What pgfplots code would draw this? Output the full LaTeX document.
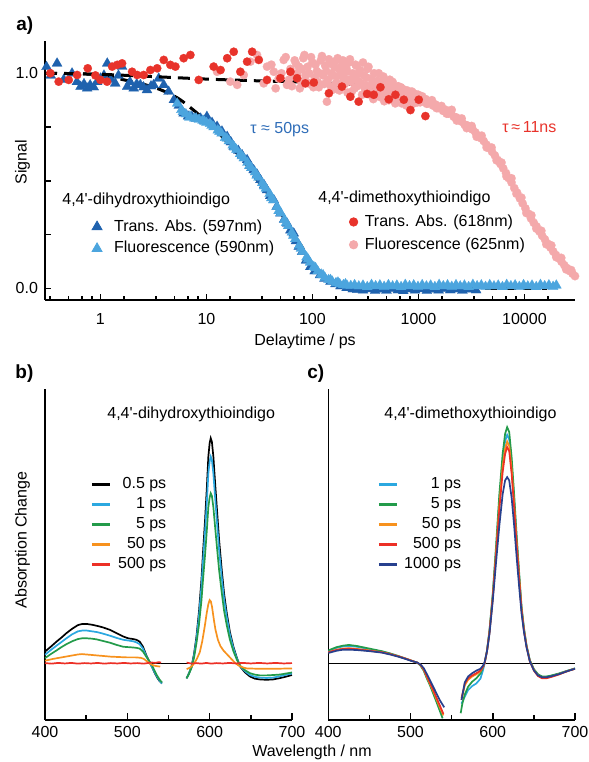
\documentclass[border=0pt]{standalone}
\usepackage{fontspec}
\setmainfont{Liberation Sans}
\usepackage{pgfplots}
\pgfplotsset{compat=1.18}
\definecolor{tadark}{HTML}{1F62AE}
\definecolor{flblue}{HTML}{4CA5DE}
\definecolor{tared}{HTML}{E8332B}
\definecolor{flpink}{HTML}{F4A9AB}
\definecolor{ccyan}{HTML}{2BA8E0}
\definecolor{cgreen}{HTML}{239B4A}
\definecolor{corange}{HTML}{F7921E}
\definecolor{cred}{HTML}{EC3026}
\definecolor{cnavy}{HTML}{27408E}
\definecolor{taublue}{HTML}{2F6DB8}
\newcommand\f{\fontsize{8}{9.6}\selectfont}
\pgfplotsset{
  base/.style={scale only axis, axis lines=left, axis line style={-, line width=0.8pt},
    tick style={line width=0.75pt, black}, tick align=inside,
    major tick length=3pt, minor tick length=2pt, tick label style={font=\f}, clip=true},
  mkleg/.style={legend image code/.code={\draw[##1] plot coordinates {(0pt,0pt)};}},
  lnleg/.style={legend image code/.code={\draw[##1, line width=1.4pt] (0pt,0pt) -- (9pt,0pt);}},
  fitline/.style={black, line width=1.5pt, dash pattern=on 6pt off 3.5pt, smooth, forget plot},
  tri/.style={only marks, mark=triangle*, mark size=2.9pt, mark options={line width=0.1pt}, forget plot},
  dot/.style={only marks, mark=*, mark size=2.1pt, mark options={line width=0.1pt}, forget plot},
  spec/.style={line width=0.85pt, forget plot},
}
\tikzset{txt/.style={inner sep=0pt, font=\f}}
\begin{document}
\begin{tikzpicture}
\useasboundingbox (0,0) rectangle (294.5pt,381pt);
% ---------------- panel a, axis 1 ----------------
\begin{axis}[base, at={(22.5pt,231pt)}, anchor=south west, width=265pt, height=129.5pt,
  xmode=log, xmin=0.3, xmax=30000, ymin=-0.054, ymax=1.15,
  xtick={1,10,100,1000,10000}, xticklabels={1,10,100,1000,10000},
  minor xtick={0.3333,0.5,0.6667,0.8333,1.667,3.333,5,6.667,8.333,16.67,33.33,50,66.67,83.33,166.7,333.3,500,666.7,833.3,1667,3333,5000,6667,8333,16667},
  ytick={0,0.25,0.5,0.75,1}, yticklabels={0.0,,,,1.0},
  xticklabel style={inner sep=0pt, yshift=-6.6pt},
  yticklabel style={inner sep=0pt, xshift=-3.35pt},
  legend style={at={(0.088,0.312)}, anchor=north west, draw=none, fill=none, inner sep=0pt,
    font=\f, row sep=3.6pt, column sep=6pt, nodes={inner sep=0pt}},
  legend cell align=left, mkleg]
\addplot[tri, color=tadark] coordinates {
(0.31,1.03)(0.34,0.99)(0.39,1.046)(0.45,0.97)(0.54,1.0)(0.60,0.96)(0.65,0.938)(0.70,0.95)(0.75,0.93)
(0.80,0.945)(0.865,0.935)(0.93,0.96)(1.0,0.976)(1.08,0.99)(1.16,1.046)(1.25,0.97)(1.38,0.953)(1.48,0.99)
(1.6,1.031)(1.79,0.938)(1.9,0.96)(2.06,0.93)(2.2,0.95)(2.38,0.946)(2.55,0.935)(2.75,0.922)(3.0,0.94)
(3.18,0.946)(3.55,0.976)(3.96,0.946)(4.4,0.915)(4.93,0.876)(5.5,0.85)(6.1,0.814)(6.7,0.80)(7.3,0.798)
(8.0,0.79)(8.8,0.79)(9.5,0.78)(10.1,0.798)(11.3,0.77)(12.6,0.752)(14,0.73)(15.7,0.705)(17,0.68)
(18.1,0.659)(20,0.64)(21.7,0.62)(24.2,0.597)(26,0.57)(27.9,0.55)(30,0.53)(32.3,0.504)(35,0.48)
(37.3,0.457)(40,0.43)(43.2,0.411)(46,0.38)(49.9,0.349)(54,0.32)(57.6,0.302)(62,0.27)(66.6,0.256)
(70,0.22)(74.3,0.194)(80,0.17)(87,0.13)(95.6,0.10)(105,0.08)(118,0.062)(130,0.045)(148,0.031)
(165,0.02)(184,0.01)(210,0.002)(240,-0.004)(264,-0.006)(300,-0.009)(340,-0.003)(390,-0.011)(440,-0.005)
(500,-0.01)(560,-0.002)(640,-0.008)(720,-0.012)(820,-0.004)(930,-0.009)(1050,-0.003)(1200,-0.011)(1350,-0.005)
(1550,-0.009)(1750,-0.002)(2000,-0.008)(2300,-0.004)(2600,-0.01)(3000,-0.005)(3500,-0.008)};
\addplot[tri, color=flblue] coordinates {
(5.3,0.86)(5.8,0.83)(6.4,0.81)(7.0,0.80)(7.7,0.79)(8.5,0.785)(9.2,0.78)(10,0.77)(10.8,0.765)(11.7,0.75)
(12.8,0.735)(13.9,0.72)(15.0,0.70)(16.3,0.685)(17.7,0.665)(19.2,0.645)(20.8,0.625)(22.5,0.605)(24.4,0.585)
(26.5,0.56)(28.7,0.54)(31,0.515)(33.6,0.49)(36.4,0.465)(39.5,0.44)(42.8,0.41)(46.4,0.38)(50.3,0.35)
(54.5,0.32)(59,0.29)(64,0.26)(69,0.23)(75,0.20)(81,0.17)(88,0.145)(95,0.12)(103,0.10)(112,0.08)
(121,0.065)(131,0.05)(142,0.04)(154,0.032)(167,0.025)(181,0.02)(196,0.016)(212,0.013)(230,0.012)
(6,0.82)(6.9,0.795)(8,0.79)(9.6,0.775)(11.2,0.757)(13.3,0.728)(15.6,0.697)(18.4,0.655)(21.6,0.615)
(25.4,0.57)(29.8,0.525)(35,0.475)(41,0.42)(48,0.36)(56.5,0.305)(66,0.245)(78,0.185)(91,0.135)(107,0.095)
(126,0.062)(148,0.04)(174,0.028)(205,0.02)
(250,0.016)(274,0.01)(300,0.014)(329,0.007)(361,0.017)(395,0.011)(433,0.015)(475,0.008)(521,0.016)
(571,0.01)(626,0.014)(686,0.007)(752,0.017)(824,0.011)(903,0.015)(990,0.008)(1085,0.016)(1190,0.01)
(1304,0.014)(1429,0.007)(1567,0.017)(1717,0.011)(1882,0.015)(2063,0.008)(2261,0.016)(2478,0.01)
(2717,0.014)(2978,0.007)(3264,0.017)(3577,0.011)(3921,0.015)(4298,0.008)(4711,0.016)(5164,0.01)
(5660,0.014)(6204,0.007)(6800,0.017)(7453,0.011)(8170,0.015)(8955,0.008)(9815,0.016)(10760,0.01)
(11790,0.014)(12920,0.007)(14170,0.017)(15530,0.011)(17020,0.015)(18650,0.008)(20000,0.014)};
\addplot[fitline] coordinates {
(0.3,1.0)(0.6,0.998)(1,0.992)(1.79,0.966)(2.5,0.95)(3.4,0.93)(4.5,0.905)(5.7,0.876)(7.5,0.83)
(10.1,0.775)(13.5,0.715)(18.1,0.645)(24,0.575)(30,0.505)(38,0.44)(46.4,0.38)(55,0.32)(62,0.275)
(70,0.235)(77,0.205)(86,0.165)(95,0.13)(110,0.09)(130,0.058)(148,0.04)(180,0.022)(228,0.011)
(300,0.004)(400,0.001)(600,0.0)(16400,0.0)};
\addlegendimage{only marks, mark=triangle*, mark size=2.9pt, color=tadark}
\addlegendentry{Trans. Abs. (597nm)}
\addlegendimage{only marks, mark=triangle*, mark size=2.9pt, color=flblue}
\addlegendentry{Fluorescence (590nm)}
\end{axis}
% ---------------- panel a, axis 2 ----------------
\begin{axis}[base, hide axis, at={(22.5pt,231pt)}, anchor=south west, width=265pt, height=129.5pt,
  xmode=log, xmin=0.3, xmax=30000, ymin=-0.054, ymax=1.15,
  legend style={at={(0.5736,0.331)}, anchor=north west, draw=none, fill=none, inner sep=0pt,
    font=\f, row sep=4.1pt, column sep=3.5pt, nodes={inner sep=0pt}},
  legend cell align=left, mkleg]
\addplot[dot, color=flpink] coordinates {
(12.6,1.007)(16.8,0.961)(19.5,0.946)(22.5,0.992)(26,1.054)(30,1.085)(34.7,0.953)(37.3,1.031)(43.2,1.007)
(48,0.975)(53.6,1.062)(57.6,0.946)(62,1.02)(66.6,0.992)(70,1.045)(74.3,1.031)(78,0.96)(82,1.07)(86,0.99)
(90,1.03)(95,0.95)(100,1.05)(105,0.98)(110,1.01)(115,0.935)(120,1.06)(126,0.99)(132,1.035)(137,0.868)
(140,0.97)(146,1.045)(152,1.0)(158,0.925)(164,1.055)(170,0.985)(177,1.02)(184,0.95)(191,1.04)(198,0.975)
(206,1.005)(214,0.91)(222,1.05)(231,0.96)(240,1.0)(250,0.93)(260,1.035)(270,0.965)(282,1.015)(294,0.9)
(306,0.99)(318,0.945)(331,1.02)(345,0.92)(360,0.975)(375,0.88)(390,0.96)(406,0.93)(422,1.0)(440,0.905)
(458,0.95)(476,0.87)(496,0.935)(516,0.91)(537,0.97)(559,0.885)(582,0.94)(605,0.86)(630,0.915)(656,0.895)
(683,0.935)(711,0.87)(740,0.91)(770,0.85)(802,0.895)(835,0.875)(869,0.915)(905,0.86)(942,0.89)(980,0.865)
(41,1.04)(45,0.93)(51,1.0)(56,1.075)(60,0.97)(64,0.94)(68,1.06)(72,1.0)(76,0.93)(80,1.02)(84,1.085)(88,0.96)
(93,1.0)(97,1.075)(102,0.935)(107,1.04)(112,0.96)(117,1.0)(123,1.08)(129,0.95)(135,1.01)(143,1.065)(149,0.94)
(155,0.99)(161,1.03)(167,0.955)(173,1.07)(180,0.92)(187,1.0)(194,1.06)(202,0.95)(210,1.02)(218,0.97)
(226,1.065)(235,0.915)(245,0.985)(255,1.04)(265,0.94)(276,1.0)(288,0.955)(300,1.05)(312,0.93)(325,0.98)
(338,1.03)(352,0.9)(367,0.95)(382,1.0)(398,0.91)(414,0.965)(431,0.89)(449,0.94)(467,0.985)(486,0.9)
(506,0.955)(527,0.875)(548,0.93)(571,0.96)(594,0.9)(618,0.875)(643,0.94)(670,0.9)(697,0.86)(725,0.925)
(755,0.885)(786,0.92)(818,0.855)(852,0.9)(887,0.88)(923,0.905)(961,0.875)(1000,0.9)(1040,0.865)
(1020,0.895)(1060,0.885)(1110,0.87)(1170,0.88)(1230,0.86)(1300,0.868)(1370,0.85)(1450,0.855)(1530,0.838)
(1620,0.845)(1710,0.825)(1810,0.83)(1920,0.812)(2030,0.815)(2150,0.798)(2280,0.795)(2420,0.782)(2560,0.775)
(2720,0.762)(2880,0.758)(3060,0.745)(3250,0.738)(3450,0.725)(3660,0.71)(3890,0.698)(4130,0.685)(4390,0.668)
(4660,0.652)(4950,0.635)(5260,0.618)(5590,0.597)(5940,0.578)(6310,0.558)(6700,0.536)(7120,0.512)(7560,0.492)
(8030,0.466)(8530,0.445)(9060,0.418)(9620,0.395)(10220,0.372)(10860,0.348)(11530,0.325)(12250,0.305)
(13010,0.288)(13820,0.265)(14680,0.245)(15590,0.228)(16560,0.208)(17590,0.19)(18680,0.172)(19840,0.155)
(21070,0.14)(22380,0.124)(23770,0.108)(25250,0.094)(26820,0.08)(28490,0.068)(30000,0.057)
(1085,0.893)(1200,0.858)(1340,0.875)(1480,0.838)(1650,0.848)(1850,0.812)(2060,0.83)(2300,0.78)(2560,0.79)
(2850,0.745)(3180,0.755)(3540,0.705)(3950,0.71)(4400,0.655)(4900,0.655)(5460,0.595)(6080,0.585)(6780,0.52)
(7550,0.512)(8410,0.44)(9370,0.422)(10440,0.35)(11630,0.34)(12960,0.278)(14440,0.268)(16090,0.205)
(17930,0.2)(19970,0.145)(22250,0.142)(24790,0.088)(27620,0.085)};
\addplot[dot, color=tared] coordinates {
(0.337,1.0)(0.404,0.961)(0.502,0.969)(0.603,0.992)(0.759,1.023)(0.897,0.99)(1.0,0.969)(1.156,0.961)
(1.29,1.031)(1.44,1.039)(1.6,1.046)(1.99,1.007)(2.22,0.992)(2.56,0.992)(2.96,1.015)(3.43,1.023)
(3.96,1.062)(4.57,1.039)(5.1,1.031)(6.1,1.07)(7.06,1.085)(8.46,0.969)(11.7,1.031)(13.6,1.015)(15.7,1.07)
(18.1,1.1)(20.9,1.007)(24.2,1.054)(27,1.1)(31.2,1.062)(37.3,0.969)(49.9,0.977)(62,1.007)(71.7,0.977)
(85.8,0.953)(103,0.957)(143,0.907)(190,0.938)(228,0.891)(273,0.868)(328,0.904)(379,0.9)(438,0.935)
(525,0.879)(607,0.9)(728,0.877)(841,0.829)(1007,0.877)(1164,0.801)};
\addplot[fitline] coordinates {
(0.3,1.0)(1,0.995)(3,0.985)(10,0.973)(30,0.965)(70,0.96)(150,0.953)(264,0.946)(500,0.925)(1000,0.885)
(1500,0.85)(2000,0.815)(2700,0.77)(3560,0.72)(4500,0.66)(5520,0.60)(7000,0.515)(8530,0.44)(10000,0.382)
(11500,0.335)(13200,0.29)(16500,0.215)(20400,0.15)(25000,0.095)(30000,0.055)};
\addlegendimage{only marks, mark=*, mark size=2.1pt, color=tared}
\addlegendentry{Trans. Abs. (618nm)}
\addlegendimage{only marks, mark=*, mark size=2.1pt, color=flpink}
\addlegendentry{Fluorescence (625nm)}
\end{axis}
% ---------------- panel b ----------------
\begin{axis}[base, at={(22.5pt,21pt)}, anchor=south west, width=123.5pt, height=165.5pt,
  xmin=400, xmax=700, ymin=-1.545, ymax=7.47,
  xtick={400,500,600,700}, xticklabels={400,500,600,700}, minor xtick={450,550,650},
  ytick=\empty, minor ytick={-1,0,1,2,3,4,5,6,7},
  major tick length=3.5pt, minor tick length=2.3pt,
  xticklabel style={inner sep=0pt, yshift=-2.75pt},
  legend style={at={(0.1822,0.7335)}, anchor=north west, draw=none, fill=none, inner sep=0pt,
    font=\f, row sep=2.9pt, column sep=3.5pt, nodes={inner sep=0pt}},
  legend cell align=right, lnleg]
\addplot[black, line width=0.6pt, forget plot] coordinates {(400,0)(700,0)};
% black 0.5 ps
\addplot[spec, black] coordinates {(400,0.32)(407,0.45)(414,0.59)(420,0.70)(426,0.82)(433,0.94)(440,1.04)(445,1.07)(451,1.07)(457,1.05)(463,1.02)(470,0.98)(479,0.91)(487,0.82)(495,0.73)(501,0.68)(507,0.66)(511,0.64)(515,0.59)(519,0.45)(523,0.22)(527,0.03)(530,-0.1)(533,-0.25)(536,-0.38)(539,-0.48)(542,-0.55)};
\addplot[spec, black] coordinates {(572,-0.41)(575,-0.27)(578,-0.09)(581,0.25)(584,0.73)(587,1.4)(590,2.27)(592,3.05)(594.4,3.9)(596.5,4.75)(598.4,5.63)(600,6.0)(601.3,6.13)(602.7,6.03)(604.5,5.63)(606.5,4.95)(608.6,4.27)(611.5,3.35)(614.7,2.54)(617.5,1.9)(620.8,1.36)(624.5,0.86)(628.8,0.45)(633,0.15)(637,-0.09)(643,-0.25)(649,-0.36)(655,-0.42)(661,-0.44)(669,-0.45)(677,-0.44)(684,-0.41)(690,-0.38)(695,-0.35)(700,-0.32)};
% cyan 1 ps
\addplot[spec, ccyan] coordinates {(400,0.23)(407,0.36)(414,0.48)(420,0.58)(426,0.68)(433,0.79)(440,0.87)(445,0.89)(451,0.89)(457,0.87)(463,0.85)(470,0.81)(479,0.75)(487,0.69)(495,0.64)(501,0.62)(507,0.6)(511,0.57)(515,0.52)(519,0.40)(523,0.2)(527,0.03)(530,-0.1)(533,-0.24)(536,-0.36)(539,-0.47)(542,-0.55)};
\addplot[spec, ccyan] coordinates {(572,-0.41)(575,-0.27)(578,-0.1)(581,0.22)(584,0.67)(587,1.28)(590,2.08)(592,2.8)(594.4,3.58)(596.5,4.36)(598.4,5.17)(600,5.5)(601.3,5.63)(602.7,5.54)(604.5,5.17)(606.5,4.55)(608.6,3.92)(611.5,3.08)(614.7,2.33)(617.5,1.75)(620.8,1.25)(624.5,0.79)(628.8,0.41)(633,0.13)(637,-0.08)(643,-0.22)(649,-0.32)(655,-0.37)(661,-0.39)(669,-0.40)(677,-0.39)(684,-0.36)(690,-0.33)(695,-0.3)(700,-0.28)};
% green 5 ps
\addplot[spec, cgreen] coordinates {(400,0.14)(407,0.25)(414,0.35)(420,0.44)(426,0.52)(433,0.60)(440,0.66)(445,0.68)(451,0.68)(457,0.67)(463,0.65)(470,0.61)(479,0.56)(487,0.5)(495,0.45)(501,0.44)(507,0.43)(511,0.42)(515,0.40)(519,0.32)(523,0.18)(527,0.05)(530,-0.05)(533,-0.2)(536,-0.33)(539,-0.44)(542,-0.52)};
\addplot[spec, cgreen] coordinates {(572,-0.41)(575,-0.28)(578,-0.12)(581,0.15)(584,0.55)(587,1.05)(590,1.7)(592,2.3)(594.4,2.95)(596.5,3.6)(598.4,4.25)(600,4.52)(601.3,4.63)(602.7,4.56)(604.5,4.25)(606.5,3.74)(608.6,3.22)(611.5,2.53)(614.7,1.92)(617.5,1.43)(620.8,1.03)(624.5,0.65)(628.8,0.33)(633,0.1)(637,-0.07)(643,-0.19)(649,-0.27)(655,-0.31)(661,-0.33)(669,-0.33)(677,-0.32)(684,-0.31)(690,-0.29)(695,-0.27)(700,-0.25)};
% orange 50 ps
\addplot[spec, corange] coordinates {(400,0.07)(410,0.12)(420,0.16)(430,0.2)(440,0.24)(445,0.25)(450,0.24)(460,0.22)(470,0.2)(480,0.18)(490,0.17)(500,0.16)(510,0.16)(516,0.15)(520,0.12)(524,0.05)(528,-0.02)(532,-0.06)(536,-0.08)(540,-0.09)};
\addplot[spec, corange] coordinates {(572,-0.16)(576,-0.12)(580,-0.04)(584,0.1)(588,0.3)(591,0.6)(594,1.0)(596.5,1.38)(598.5,1.62)(600,1.72)(601.5,1.68)(603,1.52)(605,1.2)(607,0.92)(610,0.64)(613,0.47)(617,0.34)(620,0.27)(625,0.15)(630,0.03)(635,-0.06)(640,-0.11)(645,-0.14)(660,-0.15)(680,-0.15)(700,-0.14)};
% red 500 ps
\addplot[spec, cred] coordinates {(400,0.005)(408,-0.01)(416,0.01)(424,-0.005)(432,0.01)(440,-0.01)(448,0.005)(456,-0.005)(464,0.01)(472,-0.01)(480,0.005)(488,-0.005)(496,0.01)(504,-0.005)(512,0.005)(520,-0.01)(526,0.01)(530,0.02)(534,0.01)(538,0.03)(541,0.02)};
\addplot[spec, cred] coordinates {(572,0.02)(578,-0.01)(584,0.005)(590,-0.01)(596,0.01)(602,-0.01)(608,0.005)(616,-0.005)(624,0.01)(632,-0.005)(640,0.01)(650,-0.005)(660,0.01)(670,-0.005)(680,0.01)(690,-0.005)(700,0.005)};
\addlegendimage{black}\addlegendentry{0.5 ps}
\addlegendimage{ccyan}\addlegendentry{1 ps}
\addlegendimage{cgreen}\addlegendentry{5 ps}
\addlegendimage{corange}\addlegendentry{50 ps}
\addlegendimage{cred}\addlegendentry{500 ps}
\end{axis}
% ---------------- panel c ----------------
\begin{axis}[base, at={(164.15pt,21pt)}, anchor=south west, width=123.35pt, height=165.5pt,
  xmin=400, xmax=700, ymin=-1.545, ymax=7.47,
  xtick={400,500,600,700}, xticklabels={400,500,600,700}, minor xtick={450,550,650},
  ytick=\empty, minor ytick={-1,0,1,2,3,4,5,6,7},
  major tick length=3.5pt, minor tick length=2.3pt,
  xticklabel style={inner sep=0pt, yshift=-2.75pt},
  legend style={at={(0.1974,0.7335)}, anchor=north west, draw=none, fill=none, inner sep=0pt,
    font=\f, row sep=2.9pt, column sep=3pt, nodes={inner sep=0pt}},
  legend cell align=right, lnleg]
\addplot[black, line width=0.6pt, forget plot] coordinates {(400,0)(700,0)};
% cyan 1 ps
\addplot[spec, ccyan] coordinates {(400,0.33)(410,0.42)(418,0.46)(425,0.47)(435,0.45)(450,0.38)(465,0.32)(475,0.26)(485,0.19)(495,0.12)(500,0.08)(505,0.04)(508,0.02)(512,-0.05)(516,-0.19)(520,-0.4)(524,-0.6)(528,-0.82)(532,-1.04)(536,-1.26)(539,-1.42)};
\addplot[spec, ccyan] coordinates {(562,-1.1)(565,-0.95)(570,-0.73)(575,-0.62)(580,-0.55)(585,-0.42)(588,-0.2)(590,-0.02)(593,0.33)(596,0.87)(600,1.85)(604,3.1)(608,4.45)(612,5.5)(615,6.05)(617.5,6.22)(620,6.1)(623,5.42)(626,4.45)(629,3.4)(632,2.42)(635,1.5)(638,0.92)(641,0.48)(645,0.08)(650,-0.17)(655,-0.31)(660,-0.37)(665,-0.37)(670,-0.35)(680,-0.29)(690,-0.21)(700,-0.14)};
% green 5 ps
\addplot[spec, cgreen] coordinates {(400,0.35)(410,0.44)(418,0.48)(425,0.5)(435,0.47)(450,0.4)(465,0.33)(475,0.27)(485,0.2)(495,0.12)(500,0.08)(505,0.04)(508,0.02)(512,-0.06)(516,-0.2)(520,-0.42)(524,-0.62)(528,-0.85)(532,-1.08)(536,-1.32)(539,-1.5)};
\addplot[spec, cgreen] coordinates {(561,-1.36)(563,-1.1)(566,-0.85)(570,-0.64)(575,-0.5)(580,-0.41)(585,-0.28)(588,-0.12)(590,0.0)(593,0.35)(596,0.9)(600,1.9)(604,3.2)(608,4.6)(612,5.7)(615,6.25)(617.5,6.43)(620,6.3)(623,5.6)(626,4.6)(629,3.5)(632,2.5)(635,1.55)(638,0.95)(641,0.5)(645,0.09)(650,-0.16)(655,-0.3)(660,-0.36)(665,-0.36)(670,-0.34)(680,-0.28)(690,-0.21)(700,-0.14)};
% orange 50 ps
\addplot[spec, corange] coordinates {(400,0.3)(410,0.37)(418,0.4)(425,0.41)(435,0.39)(450,0.35)(465,0.3)(475,0.25)(485,0.19)(495,0.12)(500,0.08)(505,0.04)(508,0.02)(512,-0.04)(516,-0.17)(520,-0.38)(524,-0.58)(528,-0.78)(532,-1.0)(536,-1.22)(540,-1.42)};
\addplot[spec, corange] coordinates {(562,-1.0)(566,-0.6)(570,-0.45)(575,-0.36)(580,-0.3)(585,-0.22)(588,-0.1)(590,0.0)(593,0.33)(596,0.85)(600,1.8)(604,3.0)(608,4.3)(612,5.35)(615,5.85)(617.5,6.04)(620,5.92)(623,5.27)(626,4.33)(629,3.3)(632,2.36)(635,1.47)(638,0.9)(641,0.47)(645,0.07)(650,-0.18)(655,-0.33)(660,-0.39)(665,-0.39)(670,-0.37)(680,-0.3)(690,-0.22)(700,-0.15)};
% red 500 ps
\addplot[spec, cred] coordinates {(400,0.3)(410,0.36)(418,0.39)(425,0.4)(435,0.38)(450,0.34)(465,0.3)(475,0.25)(485,0.19)(495,0.12)(500,0.08)(505,0.04)(508,0.02)(512,-0.04)(516,-0.16)(520,-0.36)(524,-0.55)(528,-0.75)(532,-0.96)(536,-1.17)(540,-1.38)};
\addplot[spec, cred] coordinates {(562,-0.95)(566,-0.55)(570,-0.41)(575,-0.33)(580,-0.27)(585,-0.2)(588,-0.1)(590,0.0)(593,0.33)(596,0.84)(600,1.78)(604,2.95)(608,4.2)(612,5.2)(615,5.7)(617.5,5.89)(620,5.78)(623,5.15)(626,4.24)(629,3.24)(632,2.32)(635,1.45)(638,0.88)(641,0.46)(645,0.06)(650,-0.2)(655,-0.35)(660,-0.41)(665,-0.41)(670,-0.38)(680,-0.31)(690,-0.22)(700,-0.15)};
% navy 1000 ps
\addplot[spec, cnavy] coordinates {(400,0.28)(410,0.34)(418,0.37)(425,0.37)(435,0.36)(450,0.33)(465,0.29)(475,0.24)(485,0.18)(495,0.11)(500,0.07)(505,0.04)(508,0.02)(512,-0.03)(516,-0.13)(520,-0.3)(524,-0.48)(528,-0.66)(532,-0.84)(536,-1.02)(541,-1.2)};
\addplot[spec, cnavy] coordinates {(562,-1.0)(566,-0.52)(570,-0.36)(575,-0.27)(580,-0.2)(585,-0.15)(588,-0.07)(590,0.02)(593,0.33)(596,0.8)(600,1.7)(604,2.75)(608,3.75)(612,4.6)(615,4.98)(617.5,5.07)(620,4.98)(623,4.5)(626,3.75)(629,2.9)(632,2.1)(635,1.36)(638,0.84)(641,0.44)(645,0.06)(650,-0.19)(655,-0.33)(660,-0.38)(665,-0.38)(670,-0.36)(680,-0.3)(690,-0.22)(700,-0.15)};
\addlegendimage{ccyan}\addlegendentry{1 ps}
\addlegendimage{cgreen}\addlegendentry{5 ps}
\addlegendimage{corange}\addlegendentry{50 ps}
\addlegendimage{cred}\addlegendentry{500 ps}
\addlegendimage{cnavy}\addlegendentry{1000 ps}
\end{axis}
% ---------------- texts ----------------
\node[txt, anchor=base west, font=\bfseries\fontsize{9.5}{11}\selectfont] at (8pt,365.5pt) {a)};
\node[txt, anchor=base west, font=\bfseries\fontsize{9.5}{11}\selectfont] at (7.5pt,191.5pt) {b)};
\node[txt, anchor=base west, font=\bfseries\fontsize{9.5}{11}\selectfont] at (153.5pt,191.5pt) {c)};
\node[txt, rotate=90] at (11.3pt,300pt) {Signal};
\node[txt, rotate=90] at (11.3pt,111pt) {Absorption Change};
\node[txt, anchor=base] at (152.5pt,208.15pt) {Delaytime / ps};
\node[txt, anchor=base] at (156pt,2.6pt) {Wavelength / nm};
\node[txt, anchor=base west] at (31pt,278.75pt) {4,4\textquotesingle-dihydroxythioindigo};
\node[txt, anchor=base west] at (159pt,279.75pt) {4,4\textquotesingle-dimethoxythioindigo};
\node[txt, anchor=base west, text=taublue] at (125pt,314.25pt) {τ ≈ 50ps};
\node[txt, anchor=base west, text=tared] at (251pt,314.75pt) {τ\,≈\,11ns};
\node[txt, anchor=base west] at (53.5pt,171.5pt) {4,4\textquotesingle-dihydroxythioindigo};
\node[txt, anchor=base west] at (192pt,171.5pt) {4,4\textquotesingle-dimethoxythioindigo};
\end{tikzpicture}
\end{document}
